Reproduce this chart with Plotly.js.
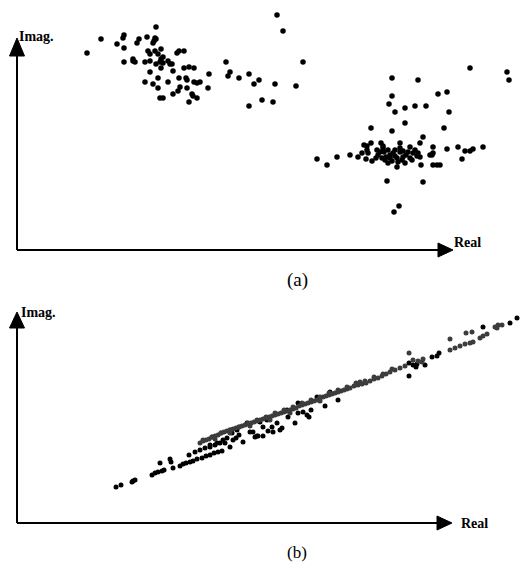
<!DOCTYPE html>
<html>
<head>
<meta charset="utf-8">
<script src="https://cdn.plot.ly/plotly-3.0.1.min.js"></script>
<style>html,body{margin:0;padding:0;background:#fff;}#chart{width:531px;height:565px;}</style>
</head>
<body>
<div id="chart"></div>
<script>
// Panel (a): scattered constellation (Real, Imag), arbitrary units
var realA = [70,84,107,106,100,107,107,120,122,130,138,137,136,139,139,131,138,144,133,141,146,160,162,167,116,118,116,128,133,139,143,144,146,151,153,155,144,156,167,172,177,133,192,141,162,169,170,128,136,151,177,180,183,163,161,170,141,191,156,175,176,180,143,146,172,
  209,213,211,222,232,237,242,232,245,256,258,260,266,279,286,
  453,490,492,375,401,375,421,430,372,378,388,398,409,432,388,354,375,427,406,403,383,347,350,354,364,366,416,430,441,448,453,456,466,445,393,350,351,360,333,341,345,349,355,300,310,320,415,416,413,404,380,416,420,423,370,406,382,377,
  366,367,376,383,386,391,396,400,403,361,365,368,373,380,386,393,363,371,373,378,375,381,385,389,395,398,383,369,388,378,401,359,371];
var imagA = [197,211,215,212,206,202,188,207,211,213,212,209,207,211,223,199,199,201,196,196,193,197,199,199,191,188,189,188,189,186,188,191,187,189,186,186,182,179,182,183,182,178,176,172,172,172,170,168,166,168,168,167,168,163,159,162,162,162,156,156,154,152,152,152,148,
  188,178,174,172,176,166,170,144,150,148,166,235,219,164,188,
  182,178,170,172,170,154,156,158,146,138,142,144,144,138,127,122,119,122,113,107,107,105,104,107,107,104,103,101,103,99,99,101,103,91,103,100,97,100,95,93,97,91,89,91,85,93,95,97,95,85,83,85,85,85,69,68,44,38,
  102,98,97,98,99,98,97,94,93,95,92,90,92,92,93,92,98,100,95,94,89,88,90,95,90,100,102,93,87,100,97,92,87];

// Panel (b): collapsed constellation, two strands
var realBlack = [99,104,115,116,118,135,138,141,145,147,143,153,154,156,163,166,169,172,173,176,180,185,189,193,197,201,205,178,183,188,193,198,203,200,208,213,216,219,226,222,230,233,240,215,220,236,241,246,251,255,260,265,278,281,286,292,294,308,321,271,246,243,250,270,281,300,313,422,420,415,408,392,396,399,400,392,466,493,500,
  193,206,210,238,256,263,290];
var imagBlack = [36,38,41,42,43,48,50,51,52,53,60,64,61,55,57,59,60,68,61,62,64,65,67,68,70,71,72,71,73,75,76,78,80,80,80,76,83,85,81,88,100,91,87,90,93,91,87,87,92,96,100,95,100,110,111,106,113,117,123,106,96,101,103,113,120,126,131,170,167,166,158,160,158,156,159,147,196,200,205,
  78,83,85,86,91,93,108];
var realGray = [183,186,189,192,195,198,201,204,207,210,213,216,219,222,225,228,231,234,237,240,243,246,249,252,255,258,261,264,267,270,273,276,279,282,285,288,291,294,297,300,303,306,309,312,315,318,321,324,327,330,333,337,341,345,349,353,357,361,365,369,373,378,383,388,
  198,213,233,253,273,303,343,
  186,195,204,213,222,231,240,249,258,267,276,285,294,303,312,321,330,339,348,357,366,375,
  392,405,406,433,438,443,448,453,456,433,463,466,470,449,455,478,480,481,485,396,401];
var imagGray = [80,82,83,84,86,87,88,90,91,92,93,94,95,96,97,98,99,100,101,102,103,104,105,106,107,108,109,110,111,112,113,114,115,117,118,119,120,121,122,123,125,126,127,128,129,130,131,132,133,134,135,137,138,139,140,142,144,145,147,149,151,153,155,157,
  84,90,97,103,110,122,141,
  83,86,90,93,96,100,103,106,110,113,116,120,123,126,130,133,136,140,142,146,149,154,
  170,161,164,173,175,177,179,180,181,184,185,187,189,190,191,196,195,198,198,163,162];

var W = 531, H = 565;
function px(x){return x/W;}
function py(y){return 1 - y/H;}

var traces = [
  {type:'scatter', mode:'markers', x:realA, y:imagA, xaxis:'x', yaxis:'y',
   marker:{color:'#000000', size:5.5}, cliponaxis:false, hoverinfo:'x+y'},
  {type:'scatter', mode:'markers', x:realBlack, y:imagBlack, xaxis:'x2', yaxis:'y2',
   marker:{color:'#000000', size:5}, cliponaxis:false, hoverinfo:'x+y'},
  {type:'scatter', mode:'markers', x:realGray, y:imagGray, xaxis:'x2', yaxis:'y2',
   marker:{color:'#3c3c3c', size:5}, cliponaxis:false, hoverinfo:'x+y'}
];

var lineStyle = {color:'#000000', width:2};
var shapes = [
  // panel (a) axes
  {type:'line', xref:'x', yref:'y', x0:0, y0:0, x1:422, y1:0, line:lineStyle},
  {type:'path', xref:'x', yref:'y', path:'M 421,7 L 436,0 L 421,-7 Z', fillcolor:'#000', line:{color:'#000', width:1}},
  {type:'line', xref:'x', yref:'y', x0:0, y0:0, x1:0, y1:195, line:lineStyle},
  {type:'path', xref:'x', yref:'y', path:'M -7.5,194 L 0,212 L 7.5,194 Z', fillcolor:'#000', line:{color:'#000', width:1}},
  // panel (b) axes
  {type:'line', xref:'x2', yref:'y2', x0:0, y0:0, x1:421, y1:0, line:lineStyle},
  {type:'path', xref:'x2', yref:'y2', path:'M 420,7 L 435,0 L 420,-7 Z', fillcolor:'#000', line:{color:'#000', width:1}},
  {type:'line', xref:'x2', yref:'y2', x0:0, y0:0, x1:0, y1:196, line:lineStyle},
  {type:'path', xref:'x2', yref:'y2', path:'M -7.5,195 L 0,211 L 7.5,195 Z', fillcolor:'#000', line:{color:'#000', width:1}}
];

var labFont = {family:'"Liberation Serif", "Times New Roman", serif', size:14, color:'#000'};
var capFontA = {family:'"Liberation Serif", "Times New Roman", serif', size:19, color:'#000'};
var capFontB = {family:'"Liberation Serif", "Times New Roman", serif', size:17, color:'#000'};
var annotations = [
  {xref:'paper', yref:'paper', x:px(17), y:py(36), xanchor:'left', yanchor:'middle', text:'<b>Imag.</b>', showarrow:false, font:labFont},
  {xref:'paper', yref:'paper', x:px(452), y:py(242), xanchor:'left', yanchor:'middle', text:'<b>Real</b>', showarrow:false, font:labFont},
  {xref:'paper', yref:'paper', x:px(297), y:py(280), xanchor:'center', yanchor:'middle', text:'(a)', showarrow:false, font:capFontA},
  {xref:'paper', yref:'paper', x:px(19), y:py(312), xanchor:'left', yanchor:'middle', text:'<b>Imag.</b>', showarrow:false, font:labFont},
  {xref:'paper', yref:'paper', x:px(459), y:py(523), xanchor:'left', yanchor:'middle', text:'<b>Real</b>', showarrow:false, font:labFont},
  {xref:'paper', yref:'paper', x:px(297), y:py(552), xanchor:'center', yanchor:'middle', text:'(b)', showarrow:false, font:capFontB}
];

var hidden = {visible:false, showgrid:false, zeroline:false, fixedrange:true};
var layout = {
  width:W, height:H,
  margin:{l:0, r:0, t:0, b:0, pad:0},
  paper_bgcolor:'#ffffff', plot_bgcolor:'rgba(0,0,0,0)',
  showlegend:false,
  xaxis:Object.assign({domain:[0,1], range:[-17,514], anchor:'y'}, hidden),
  yaxis:Object.assign({domain:[283/565,1], range:[-32,250], anchor:'x'}, hidden),
  xaxis2:Object.assign({domain:[0,1], range:[-17,514], anchor:'y2'}, hidden),
  yaxis2:Object.assign({domain:[0,282/565], range:[-42,240], anchor:'x2'}, hidden),
  shapes:shapes,
  annotations:annotations
};

Plotly.newPlot('chart', traces, layout, {displayModeBar:false, staticPlot:true});
</script>
</body>
</html>
